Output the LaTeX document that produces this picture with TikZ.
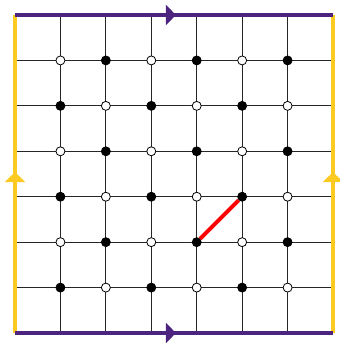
\documentclass[tikz,border=0pt]{standalone}
\usetikzlibrary{arrows.meta,decorations.markings}
\definecolor{bordpurple}{RGB}{76,36,128}
\definecolor{bordyellow}{RGB}{252,202,32}
\begin{document}
\begin{tikzpicture}[x=1pt,y=-1pt,
  gridline/.style={line width=0.9pt,black!85},
  dotw/.style={circle,draw=black,fill=white,line width=0.8pt,inner sep=0pt,minimum size=9pt},
  dotb/.style={circle,draw=black,fill=black,line width=0.8pt,inner sep=0pt,minimum size=9pt},
  redlink/.style={line width=4pt,red},
  border/.style={line width=4pt,postaction={decorate},
    decoration={markings,mark=at position 0.506 with {\arrow{Triangle[length=10pt,width=20pt]}}}},
]
\useasboundingbox (0,0) rectangle (340,343);
\coordinate (tl) at (15,15);
\coordinate (tr) at (333,15);
\coordinate (bl) at (15,333);
\coordinate (br) at (333,333);
\foreach \i in {1,...,6} {
  \draw[gridline] (15+\i*45.43,15) -- (15+\i*45.43,333);
  \draw[gridline] (15,15+\i*45.43) -- (333,15+\i*45.43);
}
\foreach \i in {1,...,6} {
  \foreach \j in {1,...,6} {
    \pgfmathtruncatemacro{\parity}{mod(\i+\j,2)}
    \ifnum\parity=0
      \node[dotw] (d\i\j) at (15+\i*45.43,15+\j*45.43) {};
    \else
      \node[dotb] (d\i\j) at (15+\i*45.43,15+\j*45.43) {};
    \fi
  }
}
\draw[redlink] (d45) -- (d54);
\draw[border,bordyellow] (bl) -- (tl);
\draw[border,bordyellow] (br) -- (tr);
\draw[border,bordpurple] (tl) -- (tr);
\draw[border,bordpurple] (bl) -- (br);
\end{tikzpicture}
\end{document}
